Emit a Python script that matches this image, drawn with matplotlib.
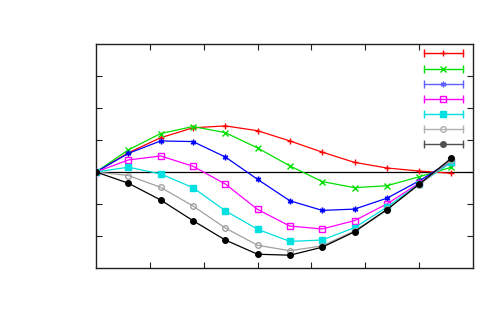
import matplotlib
matplotlib.use("Agg")
from matplotlib import pyplot as plt
from matplotlib.lines import Line2D
from matplotlib.legend_handler import HandlerLine2D, HandlerTuple

# sample positions
x = [0.0, 0.6, 1.2, 1.8, 2.4, 3.0, 3.6, 4.2, 4.8, 5.4, 6.0, 6.6]

# series
red = [0, 0.60, 1.07, 1.38, 1.44, 1.29, 0.97, 0.62, 0.30, 0.125, 0.03, -0.04]
green = [0, 0.69, 1.20, 1.42, 1.23, 0.75, 0.19, -0.30, -0.49, -0.43, -0.15, 0.15]
blue = [0, 0.58, 0.97, 0.95, 0.47, -0.23, -0.90, -1.20, -1.16, -0.82, -0.28, 0.35]
magenta = [0, 0.375, 0.50, 0.18, -0.375, -1.17, -1.69, -1.78, -1.52, -1.00, -0.35, 0.32]
cyan = [0, 0.15, -0.06, -0.49, -1.21, -1.79, -2.17, -2.125, -1.74, -1.10, -0.375, 0.30]
gray = [0, -0.11, -0.48, -1.06, -1.75, -2.29, -2.46, -2.31, -1.84, -1.17, -0.40, 0.37]
black = [0, -0.35, -0.875, -1.52, -2.125, -2.57, -2.60, -2.35, -1.87, -1.18, -0.38, 0.43]

series = [red, green, blue, magenta, cyan, gray, black]
colors = ["#ff0000", "#00e000", "#0000ff", "#ff00ff", "#00e0e0", "#a0a0a0", "#000000"]
legend_colors = ["#ff0000", "#00e000", "#6060ff", "#ff00ff", "#00e0e0", "#b0b0b0", "#505050"]
markers = ["+", "x", (6, 2, 0), "s", "s", "o", "o"]
filled = [True, True, True, False, True, False, True]

fig = plt.figure(figsize=(5.0, 3.14), dpi=100)
ax = fig.add_axes([0.192, 0.1465, 0.754, 0.7135])

for ys, c, m, f in zip(series, colors, markers, filled):
    ax.plot(x, ys, color=c, lw=0.9, marker=m, ms=4,
            mfc=c if f else "none", mec=c, mew=1.0, zorder=3)

ax.axhline(0, color="black", lw=0.9, zorder=2)

ax.set_xlim(0, 7)
ax.set_ylim(-3, 4)
ax.set_xticks(range(1, 7))
ax.set_yticks(range(-2, 4))
ax.tick_params(direction="in", length=4, width=0.8, top=True, right=True,
               labelbottom=False, labelleft=False, color="#202020")
for s in ax.spines.values():
    s.set_linewidth(1.0)
    s.set_color("#202020")

# legend: errorbar-style samples, no labels
handles = []
hmap = {}
for c, m, f in zip(legend_colors, markers, filled):
    caps = Line2D([], [], color=c, lw=1.0, marker="|", ms=6, mew=1.0)
    mark = Line2D([], [], color=c, lw=0, marker=m, ms=4,
                  mfc=c if f else "none", mec=c, mew=1.0)
    hmap[caps] = HandlerLine2D(numpoints=2)
    hmap[mark] = HandlerLine2D(numpoints=1)
    handles.append((caps, mark))
hmap[tuple] = HandlerTuple(ndivide=1)

ax.legend(handles, [""] * len(handles), handler_map=hmap,
          loc="upper right", bbox_to_anchor=(0.979, 0.976), frameon=False,
          handlelength=5.2, handletextpad=0, borderpad=0, borderaxespad=0,
          labelspacing=0.74, fontsize=6)

fig.savefig("out.png", dpi=100)
